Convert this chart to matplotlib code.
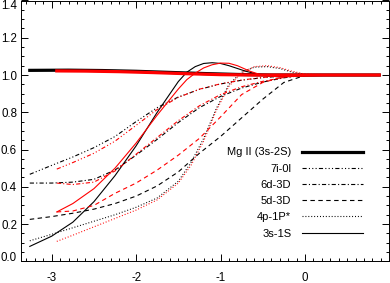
#!/usr/bin/env python3

# Import relevant packages
import matplotlib
matplotlib.use("Agg")
import matplotlib.pyplot as plt
from matplotlib.ticker import MultipleLocator


##########################################################################
# DATA
##########################################################################

# Mg II (3s-2S), thick
mg_x_k = [-3.26, -2.8, -2.4, -2.0, -1.6, -1.2, -0.8, -0.4, 0.0, 0.4, 0.88]
mg_y_k = [1.025, 1.026, 1.024, 1.02, 1.014, 1.008, 1.003, 1.0, 1.0, 1.0, 1.0]
mg_x_r = [-2.94, -2.6, -2.2, -1.8, -1.4, -1.0, -0.6, -0.2, 0.2, 0.88]
mg_y_r = [1.022, 1.021, 1.018, 1.013, 1.007, 1.002, 1.0, 1.0, 1.0, 1.0]

# 7i-0l
i7_x_k = [-3.26, -3.0, -2.75, -2.5, -2.25, -2.0, -1.75, -1.5, -1.25, -1.0,
          -0.75, -0.5, -0.25, 0.0, 0.4, 0.88]
i7_y_k = [0.467, 0.515, 0.56, 0.61, 0.67, 0.75, 0.825, 0.882, 0.923, 0.952,
          0.972, 0.986, 0.995, 1.0, 1.0, 1.0]
i7_x_r = [-2.94, -2.75, -2.5, -2.25, -2.0, -1.75, -1.5, -1.25, -1.0, -0.75,
          -0.5, -0.25, 0.0, 0.4, 0.88]
i7_y_r = [0.495, 0.53, 0.58, 0.645, 0.73, 0.815, 0.88, 0.924, 0.953, 0.973,
          0.987, 0.995, 1.0, 1.0, 1.0]

# 6d-3D
d6_x_k = [-3.26, -3.0, -2.75, -2.5, -2.25, -2.0, -1.75, -1.5, -1.25, -1.0,
          -0.75, -0.5, -0.25, 0.0, 0.4, 0.88]
d6_y_k = [0.42, 0.42, 0.425, 0.44, 0.49, 0.57, 0.655, 0.745, 0.825, 0.885,
          0.93, 0.962, 0.985, 1.0, 1.0, 1.0]
d6_x_r = [-2.94, -2.75, -2.5, -2.25, -2.0, -1.75, -1.5, -1.25, -1.0, -0.75,
          -0.5, -0.25, 0.0, 0.4, 0.88]
d6_y_r = [0.42, 0.412, 0.425, 0.485, 0.575, 0.665, 0.755, 0.835, 0.895, 0.937,
          0.966, 0.987, 1.0, 1.0, 1.0]

# 5d-3D
d5_x_k = [-3.26, -3.0, -2.75, -2.5, -2.25, -2.0, -1.75, -1.5, -1.25, -1.0,
          -0.75, -0.5, -0.25, 0.0, 0.4, 0.88]
d5_y_k = [0.225, 0.24, 0.258, 0.28, 0.31, 0.35, 0.405, 0.48, 0.58, 0.67,
          0.77, 0.87, 0.96, 0.998, 1.0, 1.0]
d5_x_r = [-2.94, -2.75, -2.5, -2.25, -2.0, -1.75, -1.5, -1.25, -1.0, -0.75,
          -0.5, -0.25, 0.0, 0.4, 0.88]
d5_y_r = [0.265, 0.27, 0.3, 0.365, 0.42, 0.49, 0.57, 0.66, 0.775, 0.895,
          0.96, 0.99, 1.0, 1.0, 1.0]

# 4p-1P*
p4_x_k = [-3.26, -3.0, -2.75, -2.5, -2.25, -2.0, -1.75, -1.5, -1.35, -1.2,
          -1.05, -0.9, -0.75, -0.6, -0.45, -0.3, -0.15, 0.0, 0.4, 0.88]
p4_y_k = [0.11, 0.145, 0.18, 0.215, 0.25, 0.29, 0.34, 0.43, 0.53, 0.66,
          0.82, 0.95, 1.015, 1.042, 1.045, 1.035, 1.015, 1.003, 1.0, 1.0]
p4_x_r = [-2.94, -2.75, -2.5, -2.25, -2.0, -1.75, -1.5, -1.35, -1.2, -1.05,
          -0.9, -0.75, -0.6, -0.45, -0.3, -0.15, 0.0, 0.4, 0.88]
p4_y_r = [0.107, 0.14, 0.185, 0.23, 0.275, 0.33, 0.42, 0.515, 0.645, 0.81,
          0.94, 1.012, 1.045, 1.05, 1.04, 1.02, 1.005, 1.0, 1.0]

# 3s-1S
s3_x_k = [-3.26, -3.0, -2.75, -2.5, -2.25, -2.0, -1.75, -1.5, -1.4, -1.3,
          -1.2, -1.1, -1.0, -0.9, -0.7, -0.5, -0.3, 0.0, 0.4, 0.88]
s3_y_k = [0.08, 0.135, 0.21, 0.32, 0.46, 0.62, 0.8, 0.965, 1.015, 1.045,
          1.062, 1.066, 1.062, 1.05, 1.02, 0.998, 0.99, 0.995, 1.0, 1.0]
s3_x_r = [-2.94, -2.75, -2.5, -2.25, -2.0, -1.75, -1.5, -1.4, -1.3, -1.2,
          -1.1, -1.0, -0.9, -0.8, -0.65, -0.5, -0.3, 0.0, 0.4, 0.88]
s3_y_r = [0.265, 0.31, 0.39, 0.5, 0.635, 0.785, 0.925, 0.975, 1.01, 1.038,
          1.055, 1.064, 1.063, 1.05, 1.02, 0.998, 0.99, 0.995, 1.0, 1.0]

labels = ["Mg II (3s-2S)", "7i-0l", "6d-3D", "5d-3D", "4p-1P*", "3s-1S"]


##########################################################################
# STYLE
##########################################################################

plt.rcParams["font.family"] = ["Liberation Sans", "DejaVu Sans"]
plt.rcParams["lines.scale_dashes"] = False

dash3 = (0, (3.2, 2.5))
dot = (0, (0.7, 1.4))
dashdot = (0, (3.0, 1.6, 0.8, 1.6))
dashdot3 = (0, (3.0, 1.6, 0.8, 1.6, 0.8, 1.6, 0.8, 1.6))

series = [
    (mg_x_k, mg_y_k, mg_x_r, mg_y_r, "-", 2.3),
    (i7_x_k, i7_y_k, i7_x_r, i7_y_r, dashdot3, 0.8),
    (d6_x_k, d6_y_k, d6_x_r, d6_y_r, dashdot, 0.8),
    (d5_x_k, d5_y_k, d5_x_r, d5_y_r, dash3, 0.8),
    (p4_x_k, p4_y_k, p4_x_r, p4_y_r, dot, 0.8),
    (s3_x_k, s3_y_k, s3_x_r, s3_y_r, "-", 0.8),
]


##########################################################################
# GRAPHING
##########################################################################

fig = plt.figure(figsize=(3.9, 2.83), dpi=100)
ax = fig.add_axes([20.5 / 390, 21.7 / 283, 368 / 390, 260.8 / 283])

handles = []
for xk, yk, xr, yr, ls, lw in series:
    h, = ax.plot(xk, yk, color="black", linestyle=ls, linewidth=lw)
    handles.append(h)
for xk, yk, xr, yr, ls, lw in series:
    ax.plot(xr, yr, color="red", linestyle=ls, linewidth=lw)

ax.set_xlim(-3.37, 0.99)
ax.set_ylim(0.0, 1.4)
ax.xaxis.set_major_locator(MultipleLocator(1))
ax.xaxis.set_minor_locator(MultipleLocator(0.1))
ax.yaxis.set_major_locator(MultipleLocator(0.2))
ax.yaxis.set_minor_locator(MultipleLocator(0.05))
ax.tick_params(which="both", direction="in", top=True, right=True,
               width=0.7, labelsize=8.3)
ax.tick_params(which="major", length=5)
ax.tick_params(which="minor", length=2.5)
ax.tick_params(axis="x", pad=8.0)
ax.tick_params(axis="y", pad=2.5)
ax.yaxis.set_major_formatter(plt.FuncFormatter(lambda v, p: "%.1f" % v))
ax.xaxis.set_major_formatter(plt.FuncFormatter(lambda v, p: "%d" % round(v)))
for s in ax.spines.values():
    s.set_linewidth(0.7)

ax.legend(handles, labels, loc="center right", bbox_to_anchor=(0.932, 0.262),
          frameon=False, markerfirst=False, fontsize=8, handlelength=5.5,
          handletextpad=1.0, labelspacing=0.56, borderpad=0, borderaxespad=0)

# keep the end labels of the y axis inside the axis range, as IDL does
fig.canvas.draw()
for t in ax.yaxis.get_major_ticks():
    if abs(t.get_loc() - 0.0) < 1e-6:
        t.label1.set_verticalalignment("baseline")
    if abs(t.get_loc() - 1.4) < 1e-6:
        t.label1.set_verticalalignment("top")

fig.savefig("out.png", dpi=100)
